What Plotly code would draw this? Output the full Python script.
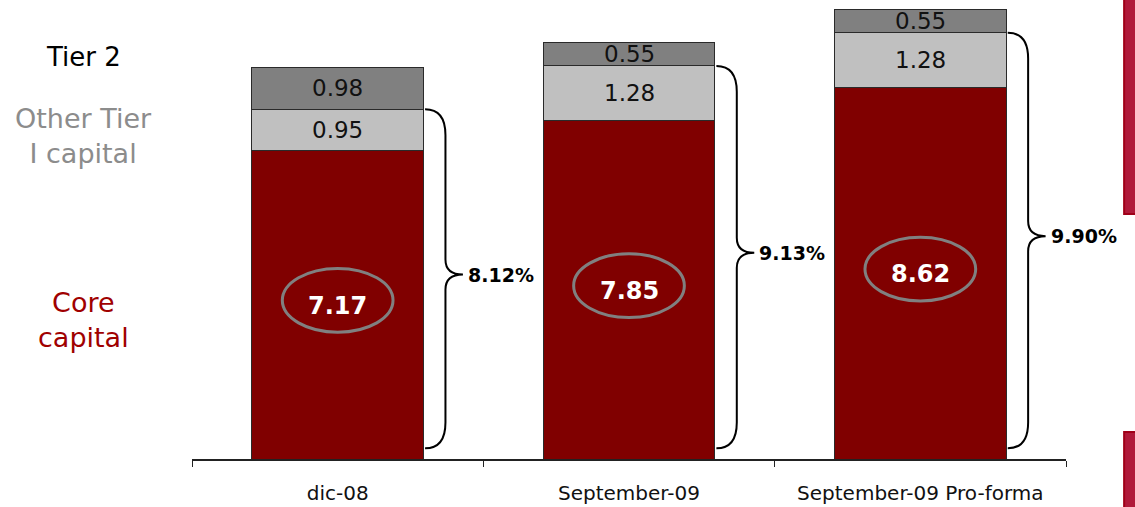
import plotly.graph_objects as go

# ── data ──────────────────────────────────────
periods = ['dic-08', 'September-09', 'September-09 Pro-forma']
core_capital = [7.17, 7.85, 8.62]
other_tier1 = [0.95, 1.28, 1.28]
tier2 = [0.98, 0.55, 0.55]

FONT = 'DejaVu Sans'
CORE_COL = '#800000'
OTHER_COL = '#C0C0C0'
TIER2_COL = '#808080'

fig = go.Figure()
for name, vals, col in [('Core capital', core_capital, CORE_COL),
                        ('Other Tier I capital', other_tier1, OTHER_COL),
                        ('Tier 2', tier2, TIER2_COL)]:
    fig.add_trace(go.Bar(
        x=periods, y=vals, name=name, width=0.59,
        marker=dict(color=col, line=dict(color='#2a2a2a', width=1)),
        hoverinfo='skip'
    ))

# segment labels (other tier I + tier 2)
for i, p in enumerate(periods):
    base = core_capital[i]
    fig.add_annotation(x=p, y=base + other_tier1[i] / 2, text=f'{other_tier1[i]:.2f}',
                       showarrow=False, font=dict(family=FONT, size=23, color='#111'))
    base += other_tier1[i]
    fig.add_annotation(x=p, y=base + tier2[i] / 2, text=f'{tier2[i]:.2f}',
                       showarrow=False, font=dict(family=FONT, size=23, color='#111'))

# core value in a grey ellipse
for i, v in enumerate(core_capital):
    c = v / 2 + 0.1
    fig.add_shape(type='circle', xref='x2', yref='y',
                  x0=i - 0.19, x1=i + 0.19, y0=c - 0.74, y1=c + 0.74,
                  line=dict(color='#808080', width=3))
    fig.add_annotation(xref='x2', yref='y', x=i, y=c - 0.12, text=f'<b>{v:.2f}</b>',
                       showarrow=False, font=dict(family=FONT, size=24, color='white'))


# curly brace next to each bar: core + other tier I
def brace_path(i, ybot, ytop, ymid):
    x0, xv, xt = i + 0.30, i + 0.37, i + 0.43
    r, rm = 0.6, 0.35
    return (f'M {x0},{ytop} Q {xv},{ytop} {xv},{ytop - r} '
            f'L {xv},{ymid + rm} Q {xv},{ymid} {xt},{ymid} '
            f'Q {xv},{ymid} {xv},{ymid - rm} '
            f'L {xv},{ybot + r} Q {xv},{ybot} {x0},{ybot}')


for i in range(len(periods)):
    tot = core_capital[i] + other_tier1[i]
    ybot = 0.25
    ymid = (ybot + tot) / 2 + 0.1
    fig.add_shape(type='path', xref='x2', yref='y',
                  path=brace_path(i, ybot, tot, ymid),
                  line=dict(color='black', width=2))
    fig.add_annotation(xref='x2', yref='y', x=i + 0.44, y=ymid, xanchor='left',
                       text=f'<b>{tot:.2f}%</b>', showarrow=False,
                       font=dict(family=FONT, size=19, color='black'))

# left side legend text
side = dict(xref='paper', yref='paper', x=-0.1236, xanchor='center',
            yanchor='middle', showarrow=False)
fig.add_annotation(**side, y=0.876, text='Tier 2',
                   font=dict(family=FONT, size=26, color='black'))
fig.add_annotation(**side, y=0.704, text='Other Tier<br>I capital',
                   font=dict(family=FONT, size=27, color='#8c8c8c'))
fig.add_annotation(**side, y=0.303, text='Core<br>capital',
                   font=dict(family=FONT, size=27, color='#A00000'))

# red slide decoration on the right edge
fig.add_shape(type='rect', xref='paper', yref='paper',
              x0=1.0665, x1=1.085, y0=0.534, y1=1.02,
              fillcolor='#B01A3A', line=dict(color='#A00018', width=2))
fig.add_shape(type='rect', xref='paper', yref='paper',
              x0=1.0665, x1=1.085, y0=-0.12, y1=0.059,
              fillcolor='#B01A3A', line=dict(color='#A00018', width=2))

fig.update_layout(
    barmode='stack',
    showlegend=False,
    width=1135, height=507,
    paper_bgcolor='white',
    plot_bgcolor='white',
    margin=dict(l=192, r=69, t=0, b=48),
    xaxis=dict(type='category', tickson='boundaries', ticks='outside',
               ticklen=6, tickcolor='#222', showline=True, linecolor='#222',
               linewidth=1.5, showgrid=False, ticklabelstandoff=15,
               tickfont=dict(family=FONT, size=20, color='#111')),
    xaxis2=dict(overlaying='x', range=[-0.5, 2.5], visible=False),
    yaxis=dict(range=[0, 10.66], visible=False, showgrid=False),
)

# drop the browser's default body margin so the figure sits at (0, 0)
fig.write_html('out.html', config={'displayModeBar': False},
               post_script="document.body.style.margin='0';document.body.style.padding='0';")
